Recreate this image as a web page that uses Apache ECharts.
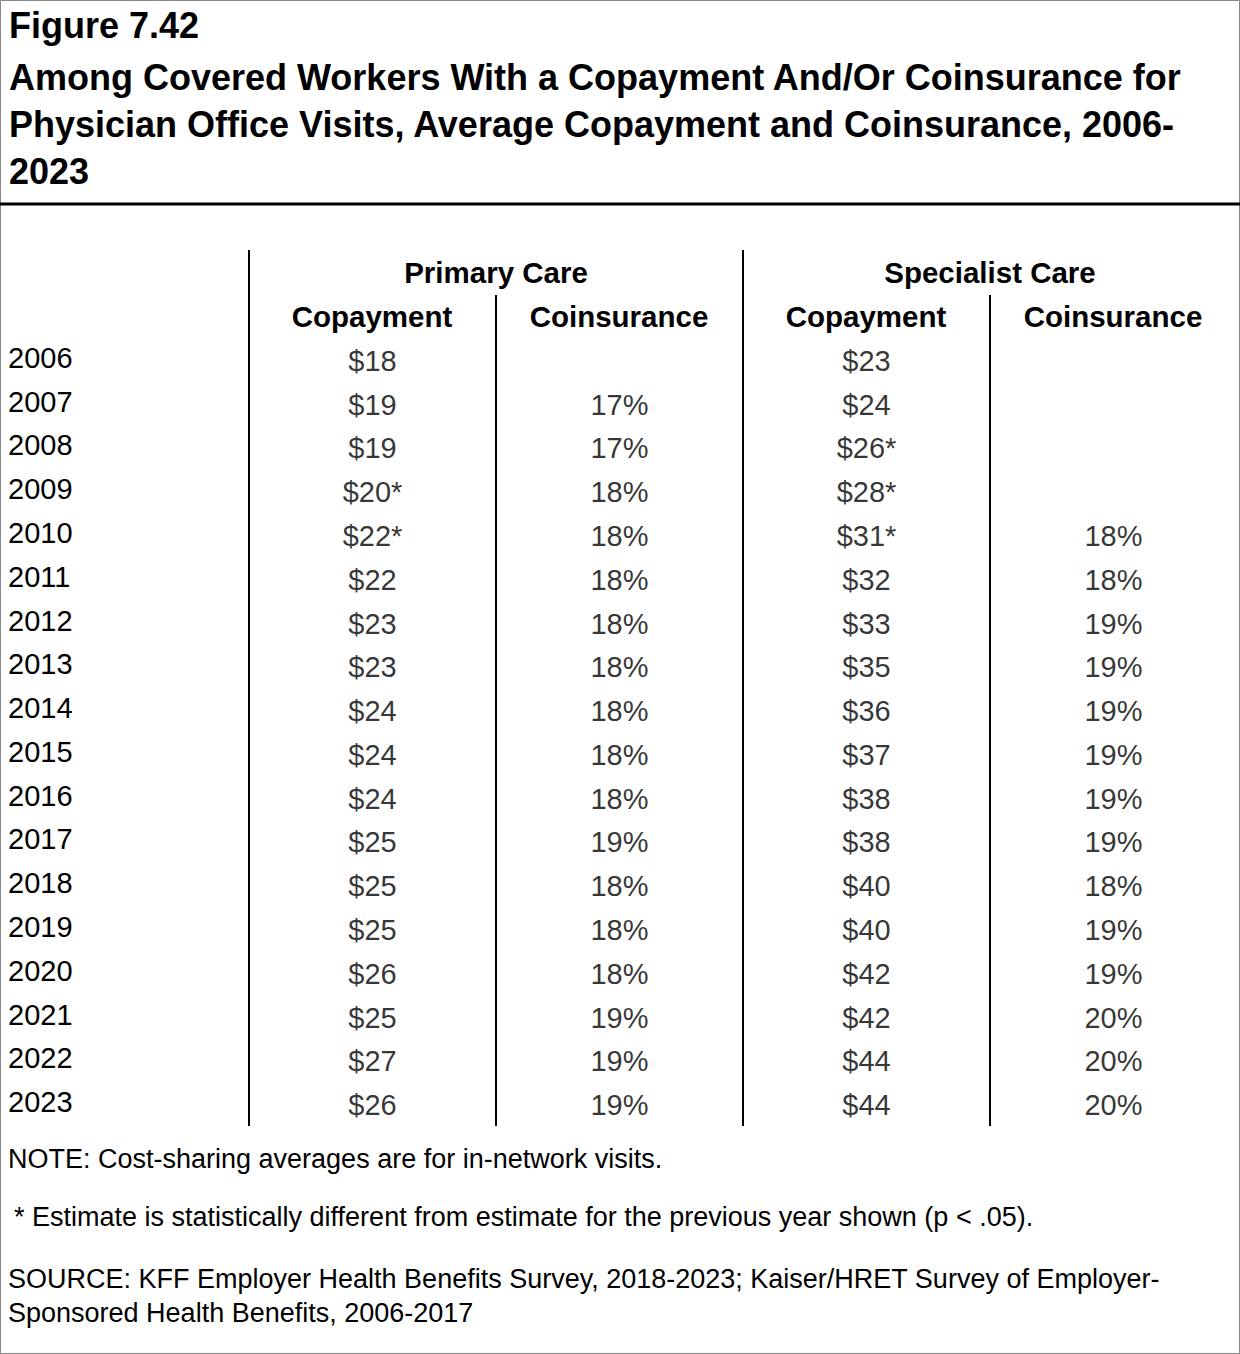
<!DOCTYPE html>
<html><head><meta charset="utf-8">
<script src="https://cdn.jsdelivr.net/npm/echarts@6/dist/echarts.min.js"></script>
<style>html,body{margin:0;padding:0;background:#fff}#c{width:1240px;height:1354px}</style>
</head><body><div id="c"></div>
<script>
const years = ['2006','2007','2008','2009','2010','2011','2012','2013','2014','2015','2016','2017','2018','2019','2020','2021','2022','2023'];
const columns = ['Primary Copayment','Primary Coinsurance','Specialist Copayment','Specialist Coinsurance'];
const primaryCopay = [18,19,19,20,22,22,23,23,24,24,24,25,25,25,26,25,27,26];
const primaryCopayStar = [0,0,0,1,1,0,0,0,0,0,0,0,0,0,0,0,0,0];
const primaryCoins = [null,17,17,18,18,18,18,18,18,18,18,19,18,18,18,19,19,19];
const specCopay = [23,24,26,28,31,32,33,35,36,37,38,38,40,40,42,42,44,44];
const specCopayStar = [0,0,1,1,1,0,0,0,0,0,0,0,0,0,0,0,0,0];
const specCoins = [null,null,null,null,18,18,19,19,19,19,19,19,18,19,19,20,20,20];

const data = [];
years.forEach((y,i)=>{
  if(primaryCopay[i]!=null) data.push({value:[0,i],label:{formatter:'$'+primaryCopay[i]+(primaryCopayStar[i]?'*':'')}});
  if(primaryCoins[i]!=null) data.push({value:[1,i],label:{formatter:primaryCoins[i]+'%'}});
  if(specCopay[i]!=null) data.push({value:[2,i],label:{formatter:'$'+specCopay[i]+(specCopayStar[i]?'*':'')}});
  if(specCoins[i]!=null) data.push({value:[3,i],label:{formatter:specCoins[i]+'%'}});
});
const F='Liberation Sans, Arial, sans-serif';
const chart = echarts.init(document.getElementById('c'),null,{renderer:'svg'});
const T=(x,y,t,o)=>({type:'text',x,y,style:{text:t,font:(o&&o.font)||'29px '+F,fill:'#000',textAlign:(o&&o.align)||'left',textVerticalAlign:'middle'}});
const L=(x1,y1,x2,y2,w)=>({type:'line',shape:{x1,y1,x2,y2},style:{stroke:'#000',lineWidth:w||2}});
chart.setOption({
  animation:false,
  grid:{left:249,right:3,top:338,bottom:228},
  xAxis:{type:'category',data:columns,show:false},
  yAxis:{type:'category',data:years,inverse:true,axisLine:{show:false},axisTick:{show:false},
    axisLabel:{show:true,fontSize:29,fontFamily:F,color:'#000',margin:241,align:'left',verticalAlign:'bottom',lineHeight:30,padding:[0,0,-13,0]}},
  series:[{type:'scatter',symbolSize:0,data,
    label:{show:true,position:'inside',fontSize:29,fontFamily:F,color:'#000',offset:[0,1]}}],
  graphic:[
    {type:'rect',shape:{x:0.5,y:0.5,width:1239,height:1353},style:{fill:'none',stroke:'#888',lineWidth:1}},
    T(9,25,'Figure 7.42',{font:'bold 36px '+F}),
    T(9,77,'Among Covered Workers With a Copayment And/Or Coinsurance for',{font:'bold 36px '+F}),
    T(9,124,'Physician Office Visits, Average Copayment and Coinsurance, 2006-',{font:'bold 36px '+F}),
    T(9,171,'2023',{font:'bold 36px '+F}),
    L(0,204,1240,204,3),
    L(249,250,249,1126),L(743,250,743,1126),L(496,295,496,1126),L(990,295,990,1126),
    T(496,272,'Primary Care',{font:'bold 29.5px '+F,align:'center'}),
    T(990,272,'Specialist Care',{font:'bold 29.5px '+F,align:'center'}),
    T(372,316,'Copayment',{font:'bold 29.5px '+F,align:'center'}),
    T(619,316,'Coinsurance',{font:'bold 29.5px '+F,align:'center'}),
    T(866,316,'Copayment',{font:'bold 29.5px '+F,align:'center'}),
    T(1113,316,'Coinsurance',{font:'bold 29.5px '+F,align:'center'}),
    T(8,1159,'NOTE: Cost-sharing averages are for in-network visits.',{font:'27px '+F}),
    T(14,1217,'* Estimate is statistically different from estimate for the previous year shown (p < .05).',{font:'27px '+F}),
    T(8,1279,'SOURCE: KFF Employer Health Benefits Survey, 2018-2023; Kaiser/HRET Survey of Employer-',{font:'27px '+F}),
    T(8,1313,'Sponsored Health Benefits, 2006-2017',{font:'27px '+F})
  ]
});
</script></body></html>
